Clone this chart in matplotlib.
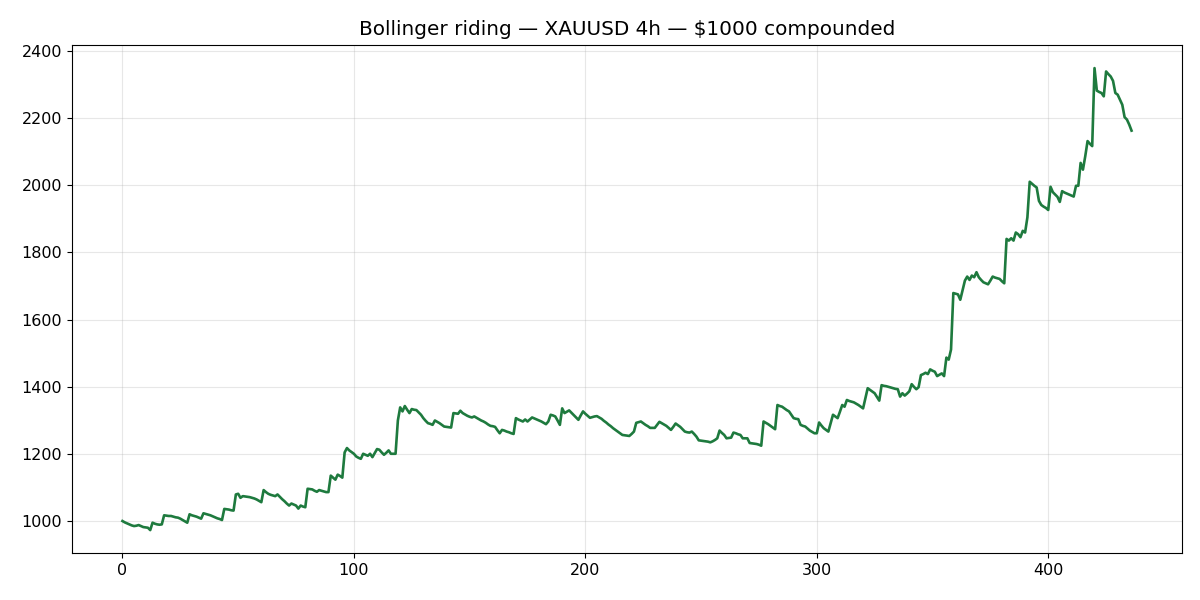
import matplotlib
matplotlib.use("Agg")
import matplotlib.pyplot as plt

# equity curve, one value per 4h bar
equity = [
    1001, 997, 994, 991, 988, 986, 987, 989, 986, 983,
    982, 981, 974, 996, 993, 991, 990, 991, 1018, 1017,
    1016, 1016, 1014, 1012, 1011, 1008, 1004, 1000, 996, 1021,
    1018, 1016, 1014, 1011, 1008, 1024, 1022, 1020, 1018, 1015,
    1012, 1009, 1007, 1004, 1037, 1036, 1035, 1033, 1032, 1080,
    1082, 1070, 1075, 1074, 1073, 1072, 1070, 1068, 1065, 1061,
    1057, 1093, 1087, 1082, 1079, 1077, 1075, 1080, 1073, 1066,
    1060, 1053, 1047, 1053, 1050, 1047, 1038, 1047, 1044, 1042,
    1097, 1096, 1095, 1091, 1088, 1093, 1091, 1089, 1087, 1087,
    1136, 1130, 1124, 1139, 1135, 1130, 1205, 1218, 1211, 1206,
    1201, 1193, 1189, 1186, 1201, 1198, 1195, 1201, 1191, 1203,
    1215, 1213, 1205, 1198, 1204, 1211, 1201, 1201, 1201, 1300,
    1339, 1327, 1343, 1332, 1322, 1334, 1332, 1331, 1324, 1317,
    1307, 1299, 1292, 1290, 1287, 1300, 1296, 1292, 1287, 1282,
    1281, 1280, 1279, 1322, 1321, 1320, 1329, 1322, 1318, 1314,
    1311, 1309, 1312, 1308, 1304, 1300, 1297, 1293, 1288, 1284,
    1283, 1281, 1271, 1262, 1272, 1270, 1267, 1265, 1262, 1260,
    1307, 1303, 1300, 1297, 1303, 1297, 1303, 1309, 1306, 1303,
    1300, 1297, 1293, 1289, 1297, 1317, 1315, 1312, 1300, 1287,
    1336, 1322, 1326, 1330, 1323, 1316, 1309, 1302, 1315, 1327,
    1320, 1314, 1308, 1310, 1312, 1313, 1309, 1305, 1299, 1294,
    1288, 1283, 1277, 1272, 1267, 1262, 1257, 1256, 1255, 1254,
    1260, 1267, 1293, 1295, 1297, 1292, 1287, 1283, 1278, 1278,
    1278, 1287, 1296, 1292, 1288, 1284, 1278, 1272, 1281, 1291,
    1286, 1281, 1274, 1267, 1265, 1264, 1267, 1260, 1252, 1241,
    1240, 1239, 1238, 1237, 1235, 1238, 1242, 1247, 1270, 1263,
    1257, 1247, 1248, 1249, 1264, 1262, 1259, 1257, 1247, 1247,
    1247, 1233, 1232, 1231, 1230, 1228, 1225, 1297, 1293, 1289,
    1284, 1279, 1274, 1346, 1343, 1341, 1336, 1331, 1327, 1317,
    1307, 1305, 1304, 1287, 1284, 1282, 1276, 1270, 1266, 1262,
    1262, 1294, 1285, 1277, 1272, 1267, 1292, 1317, 1312, 1307,
    1326, 1346, 1341, 1361, 1358, 1356, 1354, 1350, 1346, 1341,
    1336, 1366, 1396, 1391, 1386, 1381, 1370, 1359, 1405, 1403,
    1402, 1400, 1398, 1396, 1394, 1393, 1371, 1381, 1374, 1380,
    1387, 1408, 1400, 1393, 1399, 1435, 1438, 1442, 1438, 1452,
    1448, 1445, 1432, 1436, 1440, 1432, 1487, 1481, 1511, 1679,
    1677, 1675, 1659, 1688, 1716, 1728, 1718, 1731, 1726, 1741,
    1726, 1718, 1711, 1708, 1705, 1716, 1728, 1725, 1723, 1721,
    1714, 1708, 1840, 1835, 1842, 1835, 1859, 1854, 1845, 1864,
    1859, 1904, 2010, 2004, 1998, 1993, 1953, 1941, 1936, 1932,
    1926, 1995, 1979, 1972, 1965, 1950, 1982, 1978, 1975, 1972,
    1969, 1966, 1998, 1998, 2066, 2046, 2086, 2131, 2123, 2116,
    2348, 2281, 2277, 2274, 2264, 2338, 2330, 2323, 2310, 2274,
    2269, 2254, 2239, 2202, 2195, 2180, 2162,
]
bars = list(range(len(equity)))

fig, ax = plt.subplots(figsize=(12, 6), dpi=100)
ax.plot(bars, equity, color="#1e7a3e", linewidth=1.9)

ax.set_title("Bollinger riding — XAUUSD 4h — $1000 compounded", fontsize=14.4, pad=7)
ax.grid(True, alpha=0.3)
ax.tick_params(labelsize=11.5)

fig.subplots_adjust(left=0.06, right=0.985, bottom=0.078, top=0.925)
fig.savefig("out.png")
